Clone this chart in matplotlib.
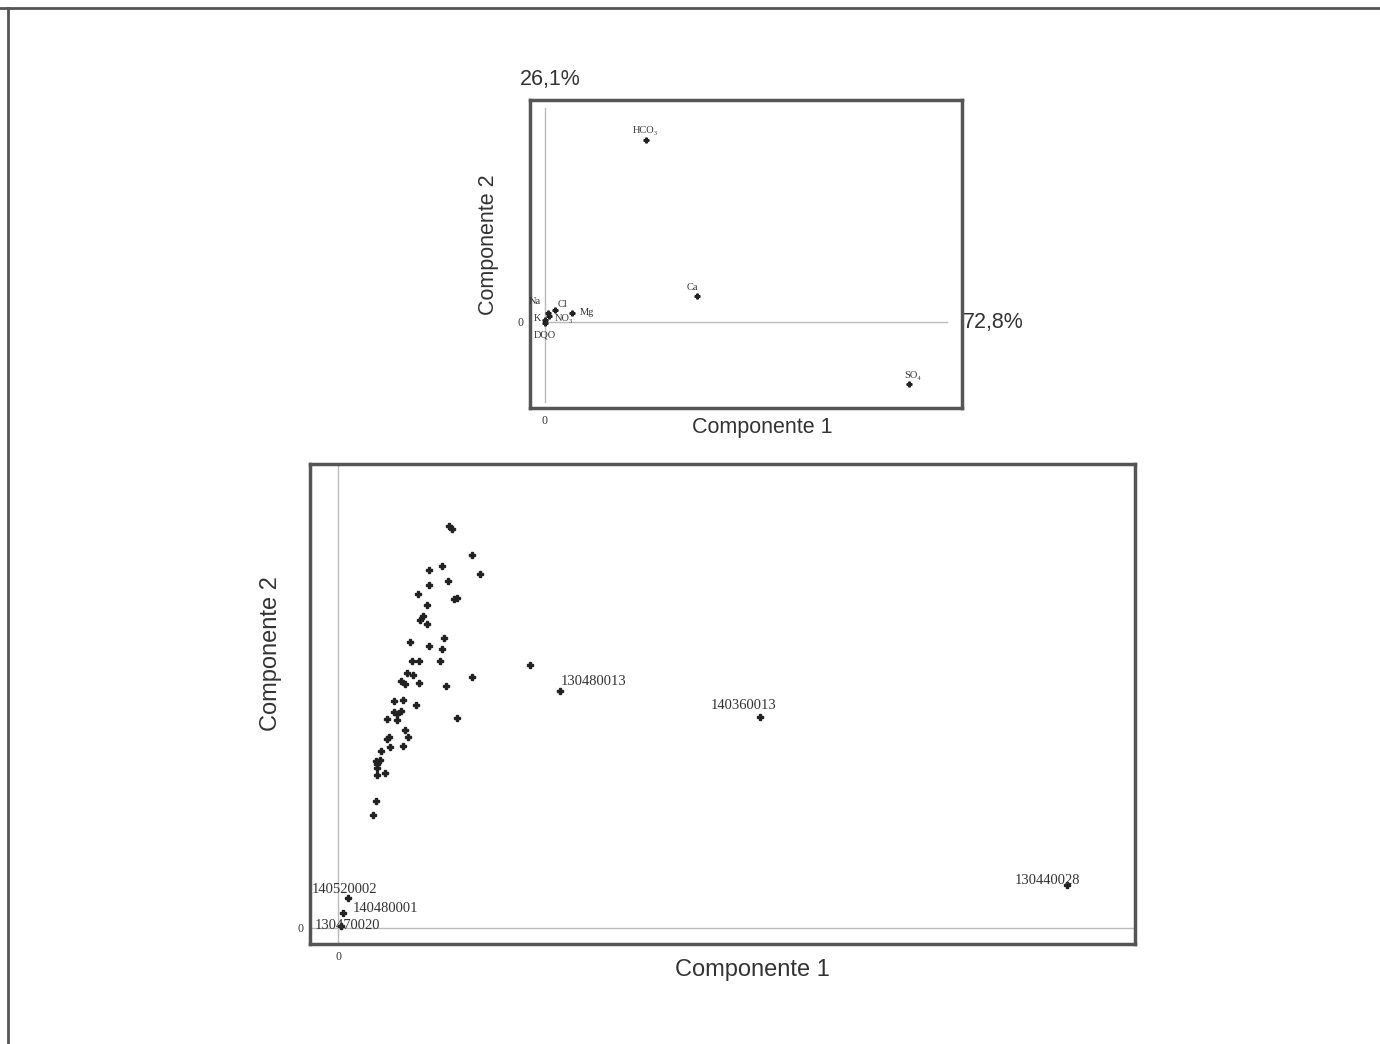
import matplotlib
matplotlib.use("Agg")
import matplotlib.pyplot as plt
from matplotlib.lines import Line2D

# upper plot: variable loadings
var_names = ["HCO₃", "Ca", "SO₄", "Cl", "Mg", "NO₃", "Na", "K", "DQO"]
var_x = [0.242, 0.365, 0.873, 0.024, 0.065, 0.010, 0.007, 0.002, 0.000]
var_y = [0.607, 0.087, -0.207, 0.040, 0.030, 0.020, 0.030, 0.007, -0.003]
var_offsets = [(0, 7), (-3, 6), (3, 6), (6, 4), (11, 0), (11, -2), (-9, 8), (-6, 1), (0, -9)]

# lower plot: sample scores
score_x = [1.98, 2.04, 2.39, 1.86, 1.63, 2.54, 1.63, 1.96, 1.43, 2.07, 2.13, 1.59,
           1.52, 1.46, 1.59, 1.89, 1.29, 1.63, 1.86, 1.32, 1.45, 1.82, 1.23, 1.34,
           2.39, 1.13, 1.20, 1.45, 1.93, 1.00, 1.16, 1.39, 1.00, 1.13, 1.05, 0.88,
           1.05, 2.13, 1.20, 1.25, 0.88, 0.91, 0.77, 0.93, 1.16, 0.68, 0.75, 0.70,
           0.70, 0.70, 0.84, 0.68, 0.63, 3.43]
score_y = [7.18, 7.13, 6.66, 6.46, 6.39, 6.32, 6.13, 6.20, 5.96, 5.88, 5.89, 5.77,
           5.57, 5.50, 5.43, 5.18, 5.11, 5.04, 4.98, 4.77, 4.77, 4.77, 4.55, 4.52,
           4.48, 4.41, 4.36, 4.38, 4.32, 4.05, 4.07, 3.98, 3.86, 3.88, 3.82, 3.73,
           3.71, 3.75, 3.54, 3.41, 3.38, 3.41, 3.16, 3.23, 3.25, 2.98, 3.00, 2.93,
           2.86, 2.73, 2.77, 2.27, 2.02, 4.70]
sample_names = ["130480013", "140360013", "130440028", "140520002", "140480001", "130470020"]
sample_x = [3.96, 7.54, 13.02, 0.18, 0.09, 0.05]
sample_y = [4.23, 3.77, 0.77, 0.54, 0.27, 0.04]
sample_offsets = [(1, 7), (-36, 8), (-38, 3), (-26, 6), (7, 3), (-19, 0)]

serif = ["Liberation Serif", "DejaVu Serif"]
sans = ["Liberation Sans", "DejaVu Sans"]
frame_col = "#555555"
text_col = "#333333"
mark_col = "#222222"

fig = plt.figure(figsize=(13.8, 10.44), dpi=100)
fig.add_artist(Line2D([0, 1], [1 - 8 / 1044, 1 - 8 / 1044], color="#555555", lw=2))
fig.add_artist(Line2D([8 / 1380, 8 / 1380], [0, 1 - 8 / 1044], color="#555555", lw=2))


def style_axes(ax):
    for s in ax.spines.values():
        s.set_color(frame_col)
        s.set_linewidth(2.5)
    ax.set_xticks([0])
    ax.set_yticks([0])
    ax.set_xticklabels(["0"], family=serif, fontsize=8.5, color=text_col)
    ax.set_yticklabels(["0"], family=serif, fontsize=8.5, color=text_col)
    ax.tick_params(length=0, pad=5)


# ---- upper plot
ax1 = fig.add_axes([530 / 1380, 1 - 408 / 1044, 432 / 1380, 308 / 1044])
ax1.set_xlim(-0.035, 1.0)
ax1.set_ylim(-0.287, 0.74)
style_axes(ax1)
ax1.plot([0, 0], [-0.267, 0.713], color="#bbbbbb", lw=1)
ax1.plot([0, 0.964], [0, 0], color="#bbbbbb", lw=1)
ax1.plot(var_x, var_y, ls="none", marker="P", ms=3.5, color=mark_col)
for name, x, y, off in zip(var_names, var_x, var_y, var_offsets):
    ax1.annotate(name, (x, y), xytext=off, textcoords="offset points",
                 ha="center", va="center", family=serif, fontsize=7.5, color=text_col)
ax1.text(0.537, -0.062, "Componente 1", transform=ax1.transAxes, ha="center", va="center",
         family=sans, fontsize=15.5, color=text_col)
ax1.text(-0.095, 0.529, "Componente 2", transform=ax1.transAxes, ha="center", va="center",
         rotation=90, family=sans, fontsize=15.5, color=text_col)
ax1.text(0.046, 1.065, "26,1%", transform=ax1.transAxes, ha="center", va="center",
         family=sans, fontsize=15.5, color=text_col)
ax1.text(1.072, 0.276, "72,8%", transform=ax1.transAxes, ha="center", va="center",
         family=sans, fontsize=15.5, color=text_col)

# ---- lower plot
ax2 = fig.add_axes([310 / 1380, 1 - 944 / 1044, 825 / 1380, 480 / 1044])
ax2.set_xlim(-0.5, 14.23)
ax2.set_ylim(-0.286, 8.286)
style_axes(ax2)
ax2.axvline(0, color="#bbbbbb", lw=1)
ax2.axhline(0, color="#bbbbbb", lw=1)
ax2.plot(score_x, score_y, ls="none", marker="P", ms=4.5, color=mark_col)
ax2.plot(sample_x, sample_y, ls="none", marker="P", ms=4.5, color=mark_col)
for name, x, y, off in zip(sample_names, sample_x, sample_y, sample_offsets):
    ax2.annotate(name, (x, y), xytext=off, textcoords="offset points",
                 ha="left", va="center", family=serif, fontsize=10.5, color=text_col)
ax2.text(0.536, -0.054, "Componente 1", transform=ax2.transAxes, ha="center", va="center",
         family=sans, fontsize=17, color=text_col)
ax2.text(-0.047, 0.606, "Componente 2", transform=ax2.transAxes, ha="center", va="center",
         rotation=90, family=sans, fontsize=17, color=text_col)

fig.savefig("out.png", dpi=100)
